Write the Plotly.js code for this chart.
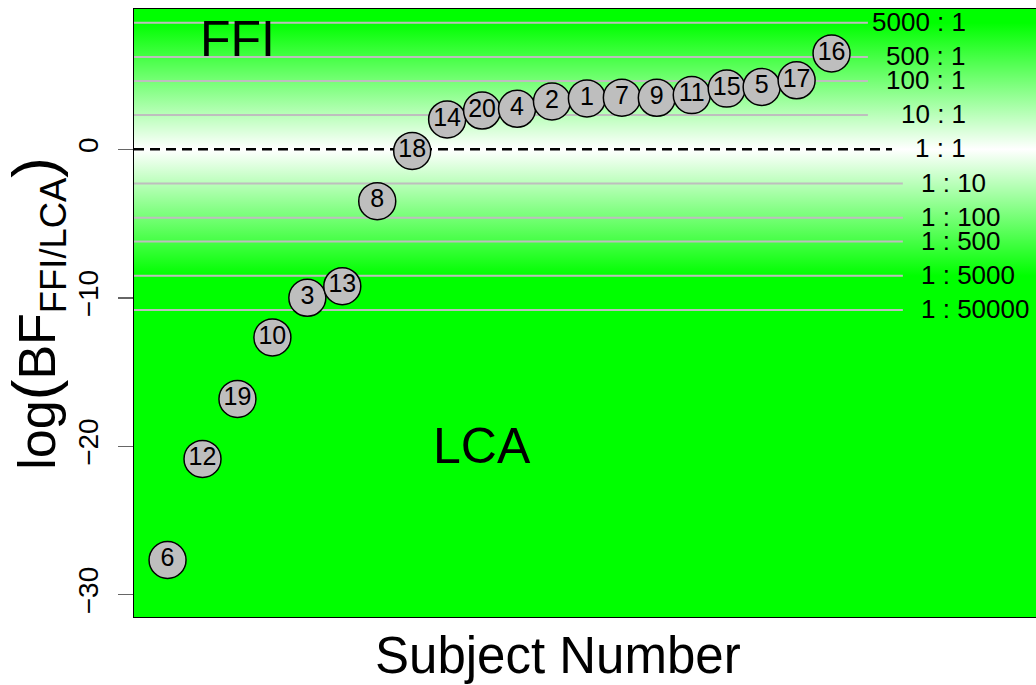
<!DOCTYPE html>
<html>
<head>
<meta charset="utf-8">
<script src="https://cdn.plot.ly/plotly-3.0.1.min.js"></script>
<style>html,body{margin:0;padding:0;background:#fff;}#chart{width:1036px;height:685px;}</style>
</head>
<body>
<div id="chart"></div>
<script>
// Subjects ordered by evidence (position 1..20 along the x axis)
const rankPos = [1,2,3,4,5,6,7,8,9,10,11,12,13,14,15,16,17,18,19,20];
const subjects = [6,12,19,10,3,13,8,18,14,20,4,2,1,7,9,11,15,5,17,16];
const logBF = [-27.66,-20.85,-16.81,-12.67,-10.0,-9.22,-3.49,-0.11,2.01,2.61,2.73,3.22,3.43,3.48,3.47,3.65,4.09,4.20,4.65,6.46];

// Bayes-factor reference ratios
const oddsLabels = ['5000 : 1','500 : 1','100 : 1','10 : 1','1 : 1','1 : 10','1 : 100','1 : 500','1 : 5000','1 : 50000'];
const oddsValues = [5000,500,100,10,1,0.1,0.01,0.002,0.0002,0.00002];

const regionLabels = ['FFI','LCA'];
const regionX = [3,10];
const regionY = [7.4,-20.0];

const xRange = [0.04, 25.85];
const yRange = [-31.5, 9.45];
const FONT = 'Liberation Sans, Arial, Helvetica, sans-serif';

// gradient background: white at log(BF)=0, full green beyond +-log(5000)
const fade = Math.log(5000);
const span = yRange[1]-yRange[0];
const o1 = (yRange[1]-fade)/span, o2 = (yRange[1]-0)/span, o3 = (yRange[1]+fade)/span;
const svg = "<svg xmlns='http://www.w3.org/2000/svg' width='10' height='1000' viewBox='0 0 10 1000' preserveAspectRatio='none'>"+
  "<defs><linearGradient id='g' x1='0' y1='0' x2='0' y2='1'>"+
  "<stop offset='0' stop-color='#00ff00'/>"+
  "<stop offset='"+o1.toFixed(4)+"' stop-color='#00ff00'/>"+
  "<stop offset='"+o2.toFixed(4)+"' stop-color='#ffffff'/>"+
  "<stop offset='"+o3.toFixed(4)+"' stop-color='#00ff00'/>"+
  "<stop offset='1' stop-color='#00ff00'/>"+
  "</linearGradient></defs><rect x='0' y='0' width='10' height='1000' fill='url(#g)'/></svg>";
const bgSrc = 'data:image/svg+xml;charset=utf-8,' + encodeURIComponent(svg);

const shapes = [];
const annotations = [];
oddsValues.forEach((r,i)=>{
  const v = Math.log(r);
  if (r === 1) {
    shapes.push({type:'line', xref:'x', yref:'y', x0:xRange[0], x1:21.73, y0:v, y1:v,
      line:{color:'#000', width:2.5, dash:'10px,6px'}, layer:'between'});
  } else {
    shapes.push({type:'line', xref:'x', yref:'y', x0:xRange[0], x1:(r>1?21.04:22.04), y0:v, y1:v,
      line:{color:'#bebebe', width:2}, layer:'between'});
  }
  annotations.push({xref:'x', yref:'y', x:(r>=1?23.9:22.5), y:v, text:oddsLabels[i],
    xanchor:(r>=1?'right':'left'), yanchor:'middle', showarrow:false, yshift:1,
    font:{family:FONT, size:26, color:'#000'}});
});
regionLabels.forEach((t,i)=>{
  annotations.push({xref:'x', yref:'y', x:regionX[i], y:regionY[i], text:t, showarrow:false,
    xanchor:'center', yanchor:'middle', font:{family:FONT, size:50, color:'#000'}});
});
// axis titles
annotations.push({xref:'x', yref:'paper', x:12.17, y:-0.063, text:'Subject Number', showarrow:false,
  xanchor:'center', yanchor:'middle', font:{family:FONT, size:51, color:'#000'}});
annotations.push({xref:'paper', yref:'paper', x:-0.109, y:0.5, textangle:-90,
  text:'log<span style="font-size:62px">(</span>BF<sub>FFI/LCA</sub><span style="font-size:62px">)</span>',
  showarrow:false, xanchor:'center', yanchor:'middle', font:{family:FONT, size:52, color:'#000'}});

const trace = {
  x: rankPos, y: logBF, text: subjects.map(String),
  type:'scatter', mode:'markers+text', textposition:'middle center',
  marker:{size:37, color:'#bebebe', line:{color:'#000', width:1.5}},
  textfont:{family:FONT, size:25, color:'#000'},
  cliponaxis:false, hoverinfo:'skip', showlegend:false
};

const layout = {
  width:1036, height:685,
  margin:{l:134, r:0, t:9, b:68, pad:0},
  paper_bgcolor:'#ffffff', plot_bgcolor:'#00ff00',
  font:{family:FONT, color:'#000'},
  showlegend:false,
  xaxis:{range:xRange, showgrid:false, zeroline:false, showticklabels:false, ticks:'',
    showline:true, mirror:true, linecolor:'#000', linewidth:1},
  yaxis:{range:yRange, showgrid:false, zeroline:false, tickvals:[0,-10,-20,-30],
    ticktext:['0','\u221210','\u221220','\u221230'], tickangle:-90,
    ticks:'outside', ticklen:15, tickwidth:1.5, tickcolor:'#666', ticklabelstandoff:9,
    tickfont:{family:FONT, size:28, color:'#000'},
    showline:true, mirror:false, linecolor:'#000', linewidth:1},
  images:[{source:bgSrc, xref:'x', yref:'y', x:xRange[0], y:yRange[1], sizex:xRange[1]-xRange[0], sizey:span,
    xanchor:'left', yanchor:'top', sizing:'stretch', layer:'below'}],
  shapes:shapes,
  annotations:annotations
};

Plotly.newPlot('chart', [trace], layout, {displayModeBar:false, staticPlot:true});
</script>
</body>
</html>
